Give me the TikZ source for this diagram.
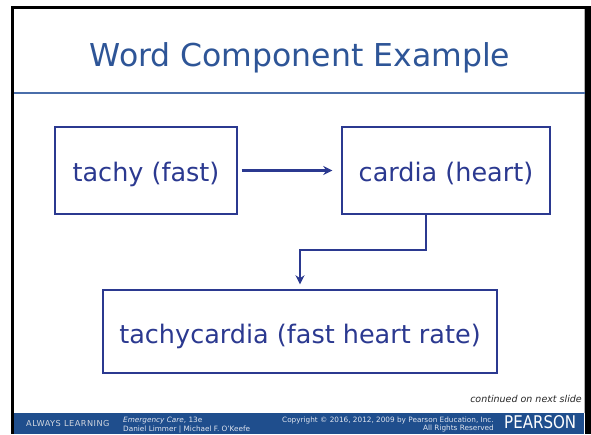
\documentclass[tikz,border=0pt]{standalone}
\usepackage{fontspec}
\usepackage{graphicx}
\setmainfont{DejaVu Sans}
\usetikzlibrary{arrows.meta}
\definecolor{navy}{RGB}{43,57,144}
\definecolor{titleblue}{RGB}{46,85,151}
\definecolor{ruleblue}{RGB}{74,110,170}
\definecolor{footblue}{RGB}{31,78,141}
\definecolor{foottext}{RGB}{225,230,240}
\tikzset{
  wordbox/.style={draw=navy, line width=1.4pt, text=navy, inner sep=0pt,
    font=\fontsize{25.5}{28}\selectfont},
  conn/.style={draw=navy, line width=2.3pt, -{Stealth[length=9pt,width=9pt]}},
  foot/.style={text=foottext, inner sep=0pt, font=\fontsize{7.3}{8}\selectfont}
}
\begin{document}
\begin{tikzpicture}[x=1pt,y=-1pt]
\useasboundingbox (0,0) rectangle (591,434);
% frame
\fill[black] (11,6) rectangle (591,434);
\fill[white] (14,9) rectangle (585,434);
\draw[gray!60, line width=0.8pt] (584.3,9) -- (584.3,413);
% title
\node[text=titleblue, inner sep=0pt, anchor=base, font=\fontsize{31.5}{34}\selectfont] (title) at (300,66) {Word Component Example};
\draw[ruleblue, line width=2.2pt] (14,93.3) -- (585,93.3);
% boxes
\node[wordbox, minimum width=182pt, minimum height=87pt, text height=21pt, text depth=0pt] (b1) at (146,170.5) {tachy (fast)};
\node[wordbox, minimum width=208pt, minimum height=87pt, text height=21pt, text depth=0pt] (b2) at (446,170.5) {cardia (heart)};
\node[wordbox, minimum width=394pt, minimum height=83pt, text height=23pt, text depth=0pt] (b3) at (300,331.5) {tachycardia (fast heart rate)};
% connectors
\draw[conn, shorten <=4pt, shorten >=9pt] (b1.east) -- (b2.west);
\coordinate (bend) at (426,250);
\draw[conn, shorten >=5pt] (b2.south -| bend) -- (bend) -| (b3.north);
% continued
\node[anchor=base east, inner sep=0pt, text=black!85, font=\fontsize{9.5}{11}\itshape] (cont) at (582,402) {continued on next slide};
% footer
\fill[footblue] (14,413) rectangle (584,434);
\node[foot, anchor=base west, text=foottext!85!gray, font=\fontsize{8.2}{9}\selectfont\addfontfeature{LetterSpace=6}] (al) at (26,426.5) {ALWAYS LEARNING};
\node[foot, anchor=base west] (ec) at (123,422) {\textit{Emergency Care}, 13e};
\node[foot, anchor=base west] (au) at (123,431) {Daniel Limmer | Michael F. O'Keefe};
\node[foot, anchor=base east] (cp) at (494,422) {Copyright © 2016, 2012, 2009 by Pearson Education, Inc.};
\node[foot, anchor=base east] (rr) at (494,430.5) {All Rights Reserved};
\node[foot, anchor=base west, text=white, font=\fontsize{17.5}{19}\selectfont] (pe) at (504,428) {\scalebox{0.86}[1]{PEARSON}};
\end{tikzpicture}
\end{document}
